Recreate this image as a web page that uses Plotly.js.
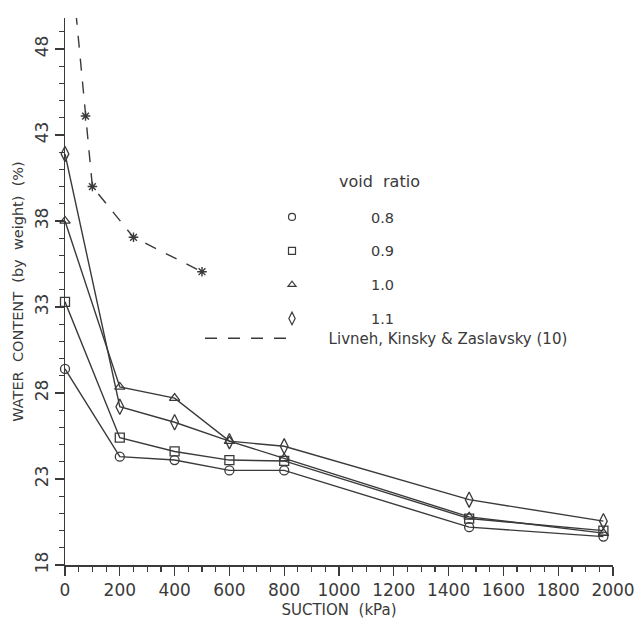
<!DOCTYPE html>
<html>
<head>
<meta charset="utf-8">
<script src="https://cdn.plot.ly/plotly-3.0.1.min.js"></script>
<style>html,body{margin:0;padding:0;background:#fff;}#chart{width:637px;height:619px;}</style>
</head>
<body>
<div id="chart"></div>
<script>
// Suction (kPa)
const suction = [0, 200, 400, 600, 800, 1475, 1965];
// Water content (% by weight) for each void ratio
const wc_e08 = [29.4, 24.3, 24.1, 23.5, 23.5, 20.2, 19.65];
const wc_e09 = [33.3, 25.4, 24.6, 24.1, 24.05, 20.7, 20.0];
const wc_e10 = [38.0, 28.35, 27.7, 25.2, 24.2, 20.8, 19.85];
const wc_e11 = [41.9, 27.2, 26.3, 25.2, 24.9, 21.8, 20.55];
// Livneh, Kinsky & Zaslavsky (10)
const livneh_x = [40, 75, 100, 250, 500];
const livneh_y = [50.1, 44.1, 40.0, 37.05, 35.05];
const voidRatios = ['0.8', '0.9', '1.0', '1.1'];
const livnehLabel = 'Livneh, Kinsky & Zaslavsky (10)';
const symbols = ['circle-open', 'square-open', 'triangle-up-open', 'diamond-tall-open'];

const ink = '#3a3a3a';
const FONT = 'DejaVu Sans, sans-serif';
const series = [wc_e08, wc_e09, wc_e10, wc_e11];
const traces = [];
series.forEach((ys, i) => {
  traces.push({
    x: suction, y: ys, type: 'scatter', mode: 'lines+markers',
    line: {color: ink, width: 1.4},
    marker: {symbol: symbols[i], size: i === 3 ? 11 : 9, color: ink, line: {color: ink, width: 1.3}},
    showlegend: false, cliponaxis: false
  });
});
series.forEach((ys, i) => {
  traces.push({
    x: [null], y: [null], type: 'scatter', mode: 'markers', name: voidRatios[i],
    marker: {symbol: symbols[i], size: i === 3 ? 9 : 7, color: ink, line: {color: ink, width: 1.2}},
    legend: 'legend', legendgroup: 'g' + i, showlegend: true
  });
});
traces.push({
  x: livneh_x, y: livneh_y, type: 'scatter', mode: 'lines+markers',
  line: {color: ink, width: 1.4, dash: '12px,11px'},
  marker: {symbol: 'asterisk-open', size: 8, color: ink, line: {color: ink, width: 1.4}},
  cliponaxis: false, showlegend: false
});
traces.push({
  x: [null], y: [null], type: 'scatter', mode: 'lines',
  name: '\u00A0\u00A0\u00A0\u00A0\u00A0\u00A0' + livnehLabel,
  line: {color: ink, width: 1.4, dash: '12px,11px'},
  legend: 'legend2', showlegend: true
});

const layout = {
  width: 637, height: 619,
  margin: {l: 65, r: 24, t: 18, b: 54},
  paper_bgcolor: '#fff', plot_bgcolor: '#fff',
  font: {family: FONT, size: 15, color: ink},
  xaxis: {
    range: [0, 2000], dtick: 200, tick0: 0,
    showline: true, linecolor: ink, linewidth: 1.5,
    ticks: 'outside', ticklen: 9, tickwidth: 1.3, tickcolor: ink,
    minor: {dtick: 50, ticks: 'outside', ticklen: 5, tickwidth: 1.2, tickcolor: ink},
    showgrid: false, zeroline: false,
    tickfont: {family: FONT, size: 17, color: ink},
    title: {text: 'SUCTION  (kPa)', font: {family: FONT, size: 15, color: ink}, standoff: 5}
  },
  yaxis: {
    range: [18, 49.8], dtick: 5, tick0: 18,
    showline: true, linecolor: ink, linewidth: 1.5,
    ticks: 'outside', ticklen: 9, tickwidth: 1.3, tickcolor: ink,
    minor: {dtick: 1, ticks: 'outside', ticklen: 5, tickwidth: 1.2, tickcolor: ink},
    showgrid: false, zeroline: false, tickangle: -90,
    tickfont: {family: FONT, size: 17, color: ink},
    title: {text: 'WATER  CONTENT  (by  weight)  (%)', font: {family: FONT, size: 14.5, color: ink}, standoff: 4}
  },
  legend: {
    x: (213 - 65) / 548, y: (565 - 201) / 547, xanchor: 'left', yanchor: 'top',
    bgcolor: 'rgba(0,0,0,0)', borderwidth: 0,
    itemwidth: 148, traceorder: 'grouped', tracegroupgap: 12,
    font: {family: FONT, size: 14.5, color: ink}
  },
  legend2: {
    x: (200 - 65) / 548, y: (565 - 322) / 547, xanchor: 'left', yanchor: 'top',
    bgcolor: 'rgba(0,0,0,0)', borderwidth: 0, itemwidth: 90,
    font: {family: FONT, size: 15, color: ink}
  },
  annotations: [{
    text: 'void  ratio', xref: 'paper', yref: 'paper',
    x: (337 - 65) / 548, y: (565 - 181.7) / 547, xanchor: 'left', yanchor: 'middle',
    showarrow: false, font: {family: FONT, size: 16, color: ink}
  }]
};
Plotly.newPlot('chart', traces, layout, {displayModeBar: false, staticPlot: true});
</script>
</body>
</html>
